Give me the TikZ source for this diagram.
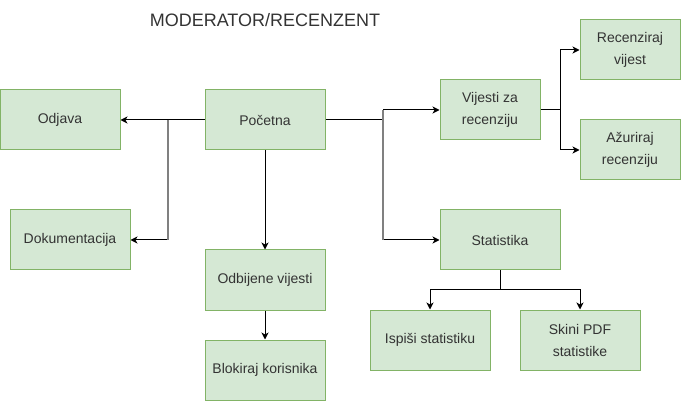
\documentclass[tikz,border=0pt]{standalone}
\usepackage{fontspec}
\setmainfont{Liberation Sans}
\usetikzlibrary{arrows.meta,calc}
\definecolor{boxfill}{HTML}{D5E8D4}
\definecolor{boxline}{HTML}{82B366}
\definecolor{txt}{HTML}{333333}
\definecolor{vline}{HTML}{808080}
\tikzset{
  box/.style={draw=boxline, fill=boxfill, line width=1pt, minimum width=120pt, minimum height=60pt,
    inner sep=2pt, align=center, text=txt, font=\fontsize{14}{22}\selectfont},
  arr/.style={draw=black, line width=1pt, -{Stealth[length=7pt,width=7pt,inset=2pt]}},
  ln/.style={draw=black, line width=1pt},
  grayline/.style={draw=vline, line width=1.5pt}
}
\begin{document}
\begin{tikzpicture}[x=1pt,y=-1pt]
\useasboundingbox (0,0) rectangle (681,401);
\node[text=txt, font=\fontsize{18}{22}\selectfont] (title) at (265,20) {MODERATOR/RECENZENT};
\node[box] (odj) at (60,120) {Odjava};
\node[box] (poc) at (265,120) {Početna};
\node[box, minimum width=100pt] (vij) at (490,110) {Vijesti za\\recenziju};
\node[box, minimum width=100pt] (rec) at (630,50) {Recenziraj\\vijest};
\node[box, minimum width=100pt] (azu) at (630,150) {Ažuriraj\\recenziju};
\node[box] (dok) at (70,240) {Dokumentacija};
\node[box] (stat) at (500,240) {Statistika};
\node[box] (odb) at (265,280) {Odbijene vijesti};
\node[box] (blk) at (265,370) {Blokiraj korisnika};
\node[box] (isp) at (430,340) {Ispiši statistiku};
\node[box] (skn) at (580,340) {Skini PDF\\statistike};
\coordinate (j1) at (168,120);
\coordinate (j2) at (383,120);
\coordinate (j3) at (560,110);
\coordinate (j4) at (500,290);
\draw[arr] (poc.west) -- (odj.east);
\draw[arr] (j1) |- (dok.east);
\draw[grayline] (j1) -- (j1 |- dok.east);
\draw[arr] (poc.south) -- (odb.north);
\draw[arr] (odb.south) -- (blk.north);
\draw[ln] (poc.east) -- (j2);
\draw[arr] (j2) |- (vij.west);
\draw[arr] (j2) |- (stat.west);
\draw[grayline] (j2 |- vij.west) -- (j2 |- stat.west);
\draw[ln] (vij.east) -- (j3);
\draw[arr] (j3) |- (rec.west);
\draw[arr] (j3) |- (azu.west);
\draw[ln] (stat.south) -- (j4);
\draw[arr] (j4) -| (isp.north);
\draw[arr] (j4) -| (skn.north);
\end{tikzpicture}
\end{document}
